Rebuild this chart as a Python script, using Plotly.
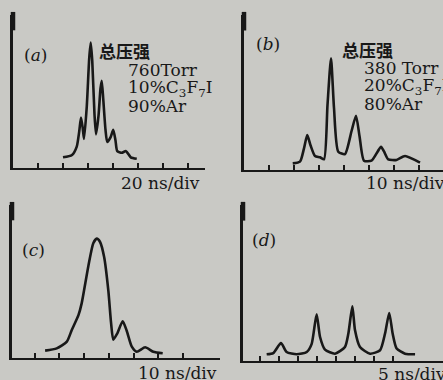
import plotly.graph_objects as go

# ---- data (time in divisions, relative intensity) ----
a_t = [2.0, 2.36, 2.55, 2.65, 2.72, 2.79, 2.84, 2.95, 3.05, 3.11, 3.17, 3.26, 3.32, 3.42, 3.50, 3.55, 3.61, 3.70, 3.77, 3.90, 4.01, 4.10, 4.17, 4.35, 4.52, 4.71, 4.95]
a_y = [0.07, 0.085, 0.14, 0.24, 0.33, 0.26, 0.19, 0.40, 0.72, 0.82, 0.70, 0.35, 0.22, 0.34, 0.52, 0.57, 0.45, 0.25, 0.17, 0.20, 0.25, 0.18, 0.11, 0.10, 0.11, 0.07, 0.06]

b_t = [1.95, 2.24, 2.40, 2.53, 2.66, 2.84, 3.04, 3.20, 3.34, 3.48, 3.60, 3.77, 4.04, 4.30, 4.48, 4.62, 4.80, 5.10, 5.35, 5.48, 5.60, 5.77, 6.10, 6.44, 7.04]
b_y = [0.043, 0.054, 0.14, 0.226, 0.16, 0.09, 0.082, 0.069, 0.42, 0.72, 0.40, 0.118, 0.103, 0.25, 0.35, 0.22, 0.06, 0.06, 0.12, 0.15, 0.12, 0.069, 0.065, 0.09, 0.047]

c_t = [1.42, 1.89, 2.30, 2.50, 2.77, 2.90, 3.17, 3.37, 3.51, 3.64, 3.81, 3.98, 4.09, 4.18, 4.34, 4.56, 4.72, 4.93, 5.13, 5.47, 5.80, 6.18]
c_y = [0.048, 0.063, 0.107, 0.183, 0.28, 0.357, 0.60, 0.75, 0.78, 0.76, 0.66, 0.44, 0.23, 0.12, 0.16, 0.24, 0.18, 0.074, 0.041, 0.07, 0.041, 0.031]

d_t = [1.35, 1.70, 2.10, 2.40, 2.93, 3.46, 3.72, 3.98, 4.16, 4.42, 4.95, 5.47, 5.65, 5.86, 6.00, 6.26, 6.79, 7.32, 7.58, 7.80, 7.98, 8.19, 8.63, 9.16]
d_y = [0.043, 0.051, 0.115, 0.058, 0.043, 0.058, 0.11, 0.30, 0.154, 0.073, 0.047, 0.09, 0.176, 0.35, 0.197, 0.09, 0.047, 0.069, 0.176, 0.308, 0.176, 0.08, 0.047, 0.043]

panel_labels = ["(<i>a</i>)", "(<i>b</i>)", "(<i>c</i>)", "(<i>d</i>)"]
scale_labels = ["20 ns/div", "10 ns/div", "10 ns/div", "5 ns/div"]
a_notes = ["760Torr", "10%C<sub>3</sub>F<sub>7</sub>I", "90%Ar"]
b_notes = ["380 Torr", "20%C<sub>3</sub>F<sub>7</sub>I", "80%Ar"]
title_cn = "总压强"

W, H = 443, 380
INK = "#181818"
BG = "#c9c9c5"

def px(x):
    return x / W

def py(y):
    return 1 - y / H

# panel geometry in pixels: (x_left, x_right, y_top, y_bottom, x range, ticks)
panels = [
    dict(x0=13, x1=205, yt=15, yb=168, xr=[0, 7.68], ticks=list(range(1, 8))),
    dict(x0=244, x1=443, yt=15, yb=170, xr=[0, 7.96], ticks=list(range(1, 8))),
    dict(x0=12, x1=220, yt=205, yb=358, xr=[0.08, 8.5], ticks=list(range(1, 8))),
    dict(x0=243, x1=443, yt=205, yb=361, xr=[0.105, 10.63], ticks=list(range(1, 9))),
]
series = [(a_t, a_y), (b_t, b_y), (c_t, c_y), (d_t, d_y)]

fig = go.Figure()
layout = dict(
    width=W, height=H, autosize=False,
    margin=dict(l=0, r=0, t=0, b=0),
    paper_bgcolor=BG, plot_bgcolor="rgba(0,0,0,0)",
    showlegend=False,
)
shapes = []
for i, (p, (t, v)) in enumerate(zip(panels, series)):
    n = "" if i == 0 else str(i + 1)
    fig.add_trace(go.Scatter(
        x=t, y=v, mode="lines", xaxis="x" + n, yaxis="y" + n,
        line=dict(color=INK, width=2.6, shape="spline", smoothing=0.6),
        hoverinfo="skip",
    ))
    layout["xaxis" + n] = dict(
        domain=[px(p["x0"]), px(p["x1"])], range=p["xr"], anchor="y" + n,
        showgrid=False, zeroline=False, showline=True, linecolor=INK, linewidth=2.2,
        ticks="inside", tickvals=p["ticks"], ticklen=5, tickwidth=1.6, tickcolor=INK,
        showticklabels=False, fixedrange=True,
    )
    layout["yaxis" + n] = dict(
        domain=[py(p["yb"]), py(p["yt"])], range=[0, 1], anchor="x" + n,
        showgrid=False, zeroline=False, showline=True, linecolor=INK, linewidth=2.8,
        ticks="", showticklabels=False, fixedrange=True,
    )
    shapes.append(dict(
        type="line", xref="x" + n + " domain", yref="y" + n + " domain",
        x0=0, x1=0, y0=0.9, y1=1.02, line=dict(color=INK, width=4.5),
    ))

layout["shapes"] = shapes

serif = "DejaVu Serif, Liberation Serif, serif"
cjk = "Noto Sans CJK SC, sans-serif"

def text(s, x, y, size=17, family=serif, anchor="left"):
    return dict(text=s, x=px(x), y=py(y), xref="paper", yref="paper",
                xanchor=anchor, yanchor="middle", showarrow=False,
                font=dict(family=family, size=size, color=INK))

ann = []
# panel letters
ann.append(text(panel_labels[0], 22, 55))
ann.append(text(panel_labels[1], 254, 44))
ann.append(text(panel_labels[2], 20, 250))
ann.append(text(panel_labels[3], 250, 240))
# scale labels
ann.append(text(scale_labels[0], 119, 183))
ann.append(text(scale_labels[1], 364, 183))
ann.append(text(scale_labels[2], 136, 373))
ann.append(text(scale_labels[3], 376, 374))
# conditions
ann.append(text("<b>" + title_cn + "</b>", 97, 51, size=17, family=cjk))
for k, s in enumerate(a_notes):
    ann.append(text(s, 126, 70 + 18 * k))
ann.append(text("<b>" + title_cn + "</b>", 340, 50, size=17, family=cjk))
for k, s in enumerate(b_notes):
    ann.append(text(s, 362, 68 + 18 * k))
layout["annotations"] = ann

fig.update_layout(**layout)
fig.write_html("out.html", config=dict(displayModeBar=False),
               post_script="document.body.style.margin='0';document.body.style.overflow='hidden';")
